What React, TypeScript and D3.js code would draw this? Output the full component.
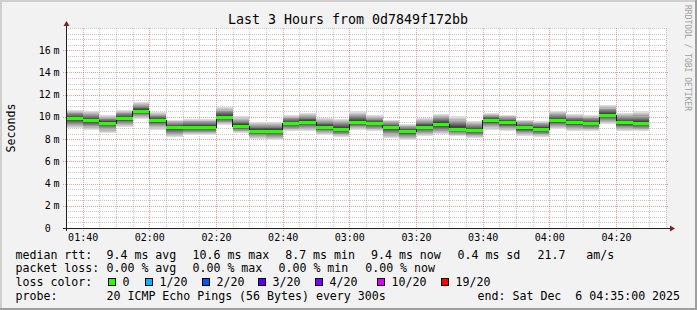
import React from "react";
import * as d3 from "d3";

// ---------- data ----------
const startTime = Date.UTC(2025, 11, 6, 1, 35, 0);
const endTime = Date.UTC(2025, 11, 6, 4, 35, 0);
const stepSeconds = 300;

// median rtt per 5-minute step (ms)
const medianMs = [
  9.87, 9.69, 9.48, 9.9, 10.56, 9.72, 9.06, 9.12, 9.12, 10.02, 9.18, 8.76, 8.76,
  9.42, 9.57, 9.12, 8.94, 9.54, 9.42, 9.06, 8.7, 9.12, 9.36, 8.94, 8.79, 9.72,
  9.51, 9.06, 8.94, 9.69, 9.54, 9.42, 10.2, 9.51, 9.42,
];
// fastest / slowest ping per step (outer smoke edge, ms)
const smokeHighMs = [
  10.65, 10.56, 10.14, 10.65, 11.34, 10.44, 9.75, 9.84, 9.84, 10.86, 10.05, 9.54,
  9.54, 10.2, 10.32, 9.9, 9.84, 10.5, 10.14, 9.75, 9.36, 9.9, 10.26, 10.05, 9.66,
  10.35, 10.2, 9.75, 9.66, 10.5, 10.26, 10.2, 11.04, 10.35, 10.5,
];
const smokeLowMs = [
  9.0, 8.85, 8.55, 9.06, 9.84, 8.85, 8.16, 8.34, 8.34, 9.24, 8.55, 8.04, 7.95, 8.7,
  8.7, 8.4, 8.16, 8.85, 8.7, 8.1, 7.95, 8.25, 8.46, 8.25, 8.1, 8.85, 8.7, 8.25,
  8.16, 8.94, 8.7, 8.7, 9.36, 8.7, 8.7,
];
// relative spread of ping rank pairs (1&20, 2&19, ... 10&11) around the median
const smokeProfile = [1, 0.88, 0.77, 0.66, 0.56, 0.46, 0.36, 0.27, 0.18, 0.09];

const yMajorTicks = [0, 2, 4, 6, 8, 10, 12, 14, 16];
const yMax = 18;

const titleText = "Last 3 Hours from 0d7849f172bb";
const yAxisTitle = "Seconds";
const watermark = "RRDTOOL / TOBI OETIKER";

const rttItems = ["median rtt:", "9.4 ms avg", "10.6 ms max", "8.7 ms min", "9.4 ms now", "0.4 ms sd", "21.7   am/s"];
const lossItems = ["packet loss:", "0.00 % avg", "0.00 % max", "0.00 % min", "0.00 % now"];
const lossColorLabel = "loss color:";
const lossLabels = ["0", "1/20", "2/20", "3/20", "4/20", "10/20", "19/20"];
const lossColors = ["#26ff00", "#00b8ff", "#0059ff", "#5e00ff", "#7e00ff", "#dd00ff", "#ff0000"];
const probeItems = ["probe:", "20 ICMP Echo Pings (56 Bytes) every 300s", "end: Sat Dec  6 04:35:00 2025"];

// ---------- layout ----------
const W = 697;
const H = 310;
const X0 = 66;
const X1 = 666;
const Y0 = 228;
const Y1 = 28;
const FONT = "'DejaVu Sans Mono', monospace";
const rttX = [15.5, 106.5, 192.5, 285.2, 371, 457.5, 537.5];
const lossX = [15.5, 106.5, 192.5, 278.5, 365.2];
const probeX = [15.5, 106.5, 477.6];
const squareX = [108.5, 145.5, 202.5, 258.5, 315.5, 377.5, 441.5];
const rowY = [258.5, 271.5, 285.5, 299.5];

export default function App() {
  const x = d3.scaleUtc().domain([new Date(startTime), new Date(endTime)]).range([X0, X1]);
  const y = d3.scaleLinear().domain([0, yMax]).range([Y0, Y1]);
  const fmt = d3.utcFormat("%H:%M");
  const majorX = x.ticks(d3.utcMinute.every(20)!);
  const minorX = x.ticks(d3.utcMinute.every(5)!);
  const minorY = d3.range(0, yMax + 0.001, 0.5);

  const stepX = (i: number) => x(new Date(startTime + i * stepSeconds * 1000));

  const shades = smokeProfile.map((_, k) => {
    const c = Math.floor((190 / 10) * (10 - (k + 1))) + 50;
    return `rgb(${c},${c},${c})`;
  });

  const medLine = d3
    .line<[number, number]>()
    .x((d) => d[0])
    .y((d) => d[1])
    .curve(d3.curveStepAfter);
  const medPts: [number, number][] = medianMs.map((m, i) => [stepX(i), Math.round(y(m)) + 0.5]);
  medPts.push([stepX(medianMs.length), Math.round(y(medianMs[medianMs.length - 1])) + 0.5]);

  const gridGrey = "rgba(143,143,143,0.5)";
  const gridRed = "rgba(222,79,79,0.55)";

  return (
    <div style={{ position: "absolute", left: 0, top: 0 }}>
      <svg width={W} height={H} viewBox={`0 0 ${W} ${H}`} style={{ display: "block" }}>
        {/* background & 3d frame */}
        <rect x={0} y={0} width={W} height={H} fill="#f2f2f2" />
        <rect x={0} y={0} width={W} height={2} fill="#cfcfcf" />
        <rect x={0} y={0} width={2} height={H} fill="#cfcfcf" />
        <rect x={0} y={H - 2} width={W} height={2} fill="#9e9e9e" />
        <rect x={W - 2} y={0} width={2} height={H} fill="#9e9e9e" />
        {/* canvas */}
        <rect x={X0} y={Y1} width={X1 - X0} height={Y0 - Y1} fill="#ffffff" />

        {/* minor grid */}
        <g shapeRendering="crispEdges">
          {minorY.map((v) =>
            yMajorTicks.includes(v) ? null : (
              <line key={"hy" + v} x1={X0} x2={X1} y1={Math.round(y(v)) + 0.5} y2={Math.round(y(v)) + 0.5}
                stroke={gridGrey} strokeDasharray="1,1" />
            )
          )}
          {minorX.map((t) =>
            majorX.some((m) => +m === +t) ? null : (
              <line key={"vx" + +t} x1={Math.round(x(t)) + 0.5} x2={Math.round(x(t)) + 0.5} y1={Y1} y2={Y0}
                stroke={gridGrey} strokeDasharray="1,1" />
            )
          )}
          {/* major grid */}
          {yMajorTicks.map((v) => (
            <line key={"my" + v} x1={X0 - 3} x2={X1 + 2} y1={Math.round(y(v)) + 0.5} y2={Math.round(y(v)) + 0.5}
              stroke={gridRed} strokeDasharray="1,1" />
          ))}
          {majorX.map((t) => (
            <line key={"mx" + +t} x1={Math.round(x(t)) + 0.5} x2={Math.round(x(t)) + 0.5} y1={Y1} y2={Y0 + 3}
              stroke={gridRed} strokeDasharray="1,1" />
          ))}
        </g>

        {/* smoke */}
        <g shapeRendering="crispEdges">
          {medianMs.map((m, i) =>
            smokeProfile.map((p, k) => {
              const hi = m + (smokeHighMs[i] - m) * p;
              const lo = m - (m - smokeLowMs[i]) * p;
              const x0 = Math.round(stepX(i));
              const x1 = Math.round(stepX(i + 1));
              const yt = Math.round(y(hi));
              const yb = Math.round(y(lo));
              return (
                <rect key={`s${i}-${k}`} x={x0} y={yt} width={x1 - x0} height={Math.max(1, yb - yt)} fill={shades[k]} />
              );
            })
          )}
        </g>

        {/* median line */}
        <path d={medLine(medPts) || ""} fill="none" stroke="#202020" strokeWidth={1} shapeRendering="crispEdges" />

        {/* median loss-colour band */}
        <g shapeRendering="crispEdges">
          {medianMs.map((m, i) => {
            const x0 = Math.round(stepX(i));
            const x1 = Math.round(stepX(i + 1));
            const yc = Math.round(y(m));
            return <rect key={"g" + i} x={x0} y={yc - 1} width={x1 - x0} height={3} fill={lossColors[0]} />;
          })}
        </g>

        {/* axes */}
        <line x1={X0 + 0.5} x2={X0 + 0.5} y1={Y0 + 3} y2={24} stroke="#1f1f1f" strokeWidth={1} />
        <line x1={X0 - 3} x2={671} y1={Y0 + 0.5} y2={Y0 + 0.5} stroke="#1f1f1f" strokeWidth={1} />
        <path d={`M${X0 + 0.5},21 L${X0 + 3.5},26 L${X0 - 2.5},26 Z`} fill="#801f1f" />
        <path d={`M675,${Y0 + 0.5} L670,${Y0 + 3.5} L670,${Y0 - 2.5} Z`} fill="#801f1f" />

        {/* y labels */}
        <g fontFamily={FONT} fontSize={10} fill="#000">
          {yMajorTicks.map((v) => (
            <g key={"yl" + v}>
              <text x={50.8} y={y(v) + 3.6} textAnchor="end">{String(v)}</text>
              {v !== 0 && <text x={53.6} y={y(v) + 3.6}>m</text>}
            </g>
          ))}
          {majorX.map((t) => (
            <text key={"xl" + +t} x={x(t) + 0.5} y={240.6} textAnchor="middle">{fmt(t)}</text>
          ))}
        </g>

        {/* title */}
        <text x={348} y={24} textAnchor="middle" fontFamily={FONT} fontSize={13.3} fill="#000">{titleText}</text>
        <text transform="translate(15,128) rotate(-90)" textAnchor="middle" fontFamily={FONT} fontSize={11.6} fill="#000">
          {yAxisTitle}
        </text>
        <text transform="translate(685,5) rotate(90)" fontFamily={FONT} fontSize={8} fill="#a0a0a0">{watermark}</text>

        {/* legend */}
        <g fontFamily={FONT} fontSize={11.6} fill="#000" style={{ whiteSpace: "pre" }}>
          {rttItems.map((s, i) => (
            <text key={"r" + i} x={rttX[i]} y={rowY[0]} xmlSpace="preserve">{s}</text>
          ))}
          {lossItems.map((s, i) => (
            <text key={"l" + i} x={lossX[i]} y={rowY[1]} xmlSpace="preserve">{s}</text>
          ))}
          <text x={15.5} y={rowY[2]}>{lossColorLabel}</text>
          {lossLabels.map((s, i) => (
            <g key={"c" + i}>
              <rect x={squareX[i]} y={278.5} width={7} height={7} fill={lossColors[i]} stroke="#000" strokeWidth={1} />
              <text x={squareX[i] + 14} y={rowY[2]}>{s}</text>
            </g>
          ))}
          {probeItems.map((s, i) => (
            <text key={"p" + i} x={probeX[i]} y={rowY[3]} xmlSpace="preserve">{s}</text>
          ))}
        </g>
      </svg>
    </div>
  );
}
